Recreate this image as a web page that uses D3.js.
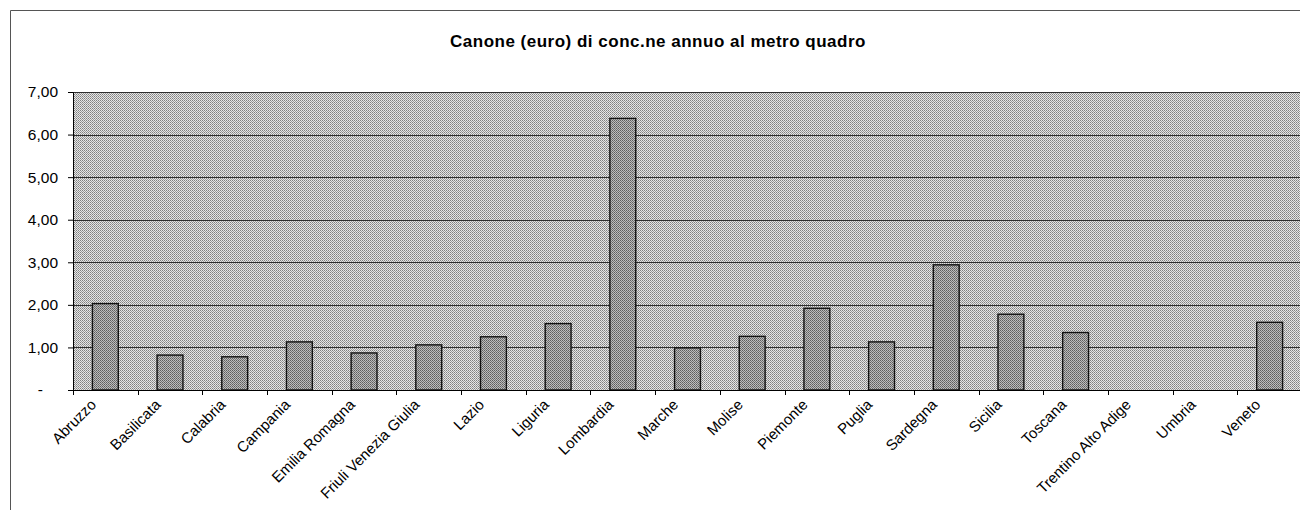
<!DOCTYPE html>
<html><head><meta charset="utf-8">
<script src="https://cdn.jsdelivr.net/npm/d3@7/dist/d3.min.js"></script>
<style>html,body{margin:0;padding:0;background:#fff;overflow:hidden}</style>
</head><body>
<svg id="c" width="1300" height="510"></svg>
<script>
const categories = ["Abruzzo","Basilicata","Calabria","Campania","Emilia Romagna","Friuli Venezia Giulia","Lazio","Liguria","Lombardia","Marche","Molise","Piemonte","Puglia","Sardegna","Sicilia","Toscana","Trentino Alto Adige","Umbria","Veneto"];
const values = [2.03,0.82,0.78,1.13,0.87,1.06,1.25,1.56,6.38,0.99,1.26,1.92,1.13,2.94,1.78,1.35,0,0,1.59];
const yTicks = [0,1,2,3,4,5,6,7];
const yTickLabels = ["-","1,00","2,00","3,00","4,00","5,00","6,00","7,00"];
const title = "Canone (euro) di conc.ne annuo al metro quadro";

const svg = d3.select("#c");
const L = 73, R = 1302, T = 92, B = 390;
const FONT = "Arial, 'Liberation Sans', sans-serif";

const defs = svg.append("defs");
const bg = defs.append("pattern").attr("id","bgp").attr("width",2).attr("height",2).attr("patternUnits","userSpaceOnUse");
bg.append("rect").attr("width",2).attr("height",2).attr("fill","#e6e6e6");
bg.append("rect").attr("x",0).attr("y",0).attr("width",1).attr("height",1).attr("fill","#808080");
bg.append("rect").attr("x",1).attr("y",1).attr("width",1).attr("height",1).attr("fill","#9c9c9c");
const bp = defs.append("pattern").attr("id","barp").attr("width",2).attr("height",2).attr("patternUnits","userSpaceOnUse");
bp.append("rect").attr("width",2).attr("height",2).attr("fill","#bdbdbd");
bp.append("rect").attr("x",0).attr("y",0).attr("width",1).attr("height",1).attr("fill","#5e5e5e");
bp.append("rect").attr("x",1).attr("y",1).attr("width",1).attr("height",1).attr("fill","#747474");

// outer frame
svg.append("path").attr("d","M10.5,510 L10.5,10.5 L1300,10.5").attr("fill","none").attr("stroke","#555").attr("stroke-width",1);

const x = d3.scaleBand().domain(categories).range([L,R]).paddingInner(0.6).paddingOuter(0.3);
const y = d3.scaleLinear().domain([0,7]).range([B,T]);

svg.append("rect").attr("x",L).attr("y",T).attr("width",R-L).attr("height",B-T).attr("fill","url(#bgp)");

// gridlines
svg.append("g").selectAll("line").data(yTicks.filter(d=>d>0)).join("line")
  .attr("x1",L).attr("x2",R).attr("y1",d=>Math.round(y(d))+0.5).attr("y2",d=>Math.round(y(d))+0.5)
  .attr("stroke","#2e2e2e").attr("stroke-width",1);

// bars
svg.append("g").selectAll("rect").data(categories).join("rect")
  .attr("x",d=>x(d)).attr("width",x.bandwidth())
  .attr("y",(d,i)=>y(values[i])).attr("height",(d,i)=>B-y(values[i]))
  .attr("fill","url(#barp)").attr("stroke","#111").attr("stroke-width",1.4)
  .attr("display",(d,i)=>values[i]>0?null:"none");

// y axis
const yAxis = d3.axisLeft(y).tickValues(yTicks).tickSize(5).tickPadding(10).tickFormat((d,i)=>yTickLabels[i]);
const yg = svg.append("g").attr("transform",`translate(${L},0)`).call(yAxis);
yg.select(".domain").attr("stroke","#000");
yg.selectAll(".tick line").attr("stroke","#000");
yg.selectAll("text").attr("font-family",FONT).attr("font-size","15.5px").attr("fill","#000");
yg.selectAll(".tick").filter(d=>d===0).select("text").attr("x",-30);

// x axis
const xAxis = d3.axisBottom(x).tickSize(0).tickFormat("");
const xg = svg.append("g").attr("transform",`translate(0,${B})`).call(xAxis);
xg.select(".domain").attr("stroke","#000");
const step = x.step();
xg.selectAll(".btick").data(d3.range(categories.length+1)).join("line").attr("class","btick")
  .attr("x1",i=>Math.round(L+i*step)+0.5).attr("x2",i=>Math.round(L+i*step)+0.5).attr("y1",0).attr("y2",5).attr("stroke","#000");

// x labels
svg.append("g").selectAll("text").data(categories).join("text")
  .attr("transform",d=>`translate(${x(d)+x.bandwidth()/2-12},${B+12}) rotate(-45)`)
  .attr("text-anchor","end").attr("dy","0.35em")
  .attr("font-family",FONT).attr("font-size","15px").attr("fill","#000")
  .text(d=>d);

// title
svg.append("text").attr("x",658).attr("y",47).attr("text-anchor","middle")
  .attr("font-family",FONT).attr("font-weight","bold").attr("font-size","17px").attr("letter-spacing","0.5px").attr("fill","#000")
  .text(title);
</script>
</body></html>
